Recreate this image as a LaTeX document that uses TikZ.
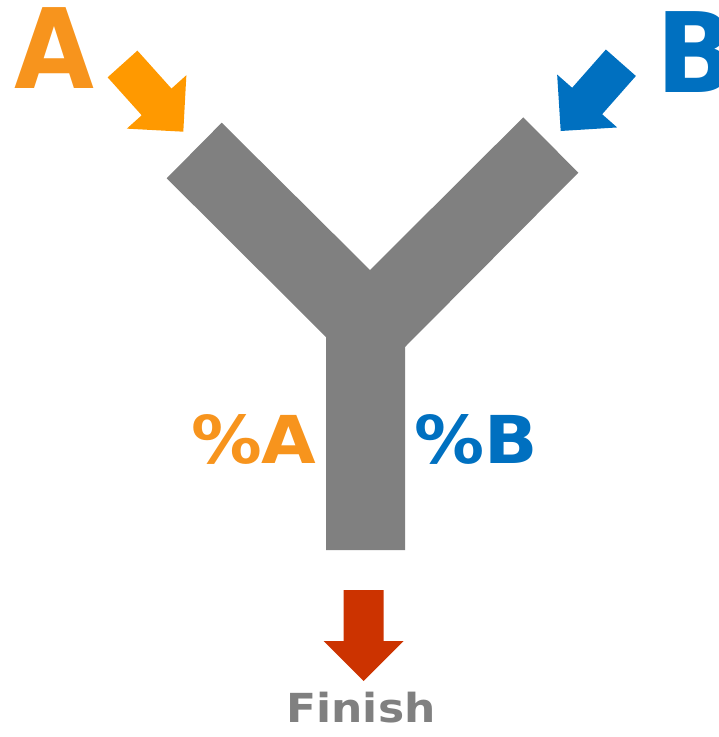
\documentclass[tikz,border=0pt]{standalone}
\usepackage{fontspec}
\setmainfont{DejaVu Sans}
\usepackage{tikz}
\usetikzlibrary{positioning, calc}

\definecolor{inflowA}{HTML}{F7941D}
\definecolor{arrowA}{HTML}{FF9900}
\definecolor{inflowB}{HTML}{0070C0}
\definecolor{outflow}{HTML}{CC3300}
\definecolor{pipe}{HTML}{808080}

\tikzset{
  % block arrow, tip at the origin, pointing along +x
  pics/blockarrow/.style={code={
    \fill[#1] (0,0) -- (-40,40) -- (-40,20) -- (-91,20)
      -- (-91,-20) -- (-40,-20) -- (-40,-40) -- cycle;
  }},
  flowtext/.style={font=\fontsize{#1}{#1}\selectfont\bfseries, inner sep=0pt,
    transform shape}
}

\begin{document}
\begin{tikzpicture}[x=1pt, y=-1pt]
  \useasboundingbox (0,0) rectangle (719,737);

  % --- Y-shaped pipe ---
  \fill[pipe] (326,550) -- (326,337) -- (166.7,178.3) -- (221.7,122.7)
    -- (370,270) -- (523.3,117.3) -- (578.3,172.7) -- (405,347)
    -- (405,550) -- cycle;

  % --- Inlets ---
  \node[flowtext=111, xscale=0.93, text=inflowA, anchor=base west] (srcA) at (14,88) {A};
  \node[flowtext=111, xscale=0.93, text=inflowB, anchor=base west] (srcB) at (656,92) {B};
  \pic[rotate=-48.1] at (183.3,131.7) {blockarrow=arrowA};
  \pic[rotate=-131.4] at (560.7,131) {blockarrow=inflowB};

  % --- Shares ---
  \node[flowtext=66, xscale=1.07, text=inflowA, anchor=base west] (shareA) at (191,463) {\%A};
  \node[flowtext=66, xscale=1.06, text=inflowB, anchor=base west] (shareB) at (414,463) {\%B};

  % --- Outlet ---
  \pic[rotate=-90] at (363.7,681) {blockarrow=outflow};
  \node[flowtext=40, xscale=1.1, text=pipe, anchor=base] (finish) at (361,722) {Finish};
\end{tikzpicture}
\end{document}
